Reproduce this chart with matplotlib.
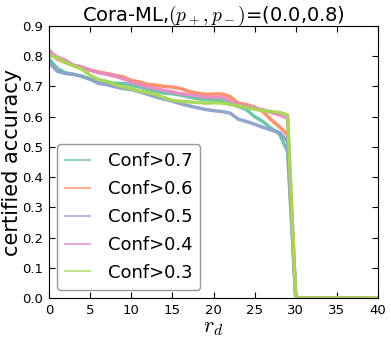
import numpy as np
import matplotlib
matplotlib.use('Agg')
import matplotlib.pyplot as plt

plt.rcParams['mathtext.fontset'] = 'cm'

r_d = np.arange(0, 41)

# values for r_d = 0..29, zero afterwards
conf07 = [0.792, 0.76, 0.745, 0.74, 0.734, 0.724, 0.717, 0.715, 0.71, 0.71,
          0.704, 0.698, 0.69, 0.684, 0.678, 0.676, 0.671, 0.665, 0.66, 0.657,
          0.656, 0.653, 0.645, 0.634, 0.623, 0.60, 0.584, 0.562, 0.543, 0.485]
conf06 = [0.82, 0.79, 0.78, 0.77, 0.763, 0.754, 0.748, 0.743, 0.737, 0.732,
          0.72, 0.715, 0.707, 0.704, 0.70, 0.698, 0.693, 0.684, 0.678, 0.674,
          0.675, 0.675, 0.667, 0.645, 0.64, 0.632, 0.617, 0.59, 0.567, 0.54]
conf05 = [0.78, 0.75, 0.743, 0.74, 0.733, 0.724, 0.71, 0.706, 0.699, 0.693,
          0.69, 0.682, 0.674, 0.665, 0.658, 0.651, 0.643, 0.636, 0.63, 0.624,
          0.62, 0.617, 0.612, 0.592, 0.584, 0.575, 0.565, 0.556, 0.548, 0.518]
conf04 = [0.814, 0.798, 0.787, 0.77, 0.765, 0.754, 0.746, 0.74, 0.734, 0.726,
          0.713, 0.707, 0.698, 0.693, 0.687, 0.682, 0.676, 0.673, 0.669, 0.665,
          0.665, 0.664, 0.654, 0.64, 0.636, 0.628, 0.623, 0.614, 0.606, 0.595]
conf03 = [0.805, 0.795, 0.779, 0.768, 0.757, 0.737, 0.723, 0.717, 0.707, 0.698,
          0.693, 0.684, 0.68, 0.673, 0.663, 0.654, 0.651, 0.649, 0.647, 0.645,
          0.646, 0.645, 0.641, 0.636, 0.63, 0.625, 0.62, 0.617, 0.614, 0.606]

series = [conf07, conf06, conf05, conf04, conf03]
labels = ['Conf>0.7', 'Conf>0.6', 'Conf>0.5', 'Conf>0.4', 'Conf>0.3']
colors = ['#66c2a5', '#fc8d62', '#8da0cb', '#e78ac3', '#a6d854']

fig = plt.figure(figsize=(3.91, 3.49), dpi=100)
ax = fig.add_axes([0.1253, 0.1461, 0.8415, 0.7794])

for vals, lab, c in zip(series, labels, colors):
    y = np.zeros(len(r_d))
    y[:len(vals)] = vals
    ax.plot(r_d, y, color=c, linewidth=2.5, alpha=0.95, label=lab)

ax.set_xlim(0, 40)
ax.set_ylim(0, 0.9)
ax.set_xticks(np.arange(0, 41, 5))
ax.set_yticks(np.arange(0, 0.91, 0.1))
ax.set_yticklabels(['%.1f' % v for v in np.arange(0, 0.91, 0.1)])
ax.tick_params(direction='in', top=True, right=True, labelsize=9.5, length=4, pad=4)

ax.set_title(r'Cora-ML,$(p_+,p_-)$=(0.0,0.8)', fontsize=14, pad=4)
ax.set_xlabel(r'$r_d$', fontsize=16, labelpad=1)
ax.set_ylabel('certified accuracy', fontsize=15)
ax.yaxis.set_label_coords(-0.082, 0.5)

leg = ax.legend(loc='lower left', fontsize=13, handlelength=1.35,
                handletextpad=1.0, labelspacing=0.55, borderaxespad=0.45,
                borderpad=0.45, fancybox=True, framealpha=1.0, edgecolor='0.6')
for h in leg.get_lines():
    h.set_linewidth(1.5)
    h.set_alpha(0.7)

fig.savefig('out.png', dpi=100, facecolor='white')
